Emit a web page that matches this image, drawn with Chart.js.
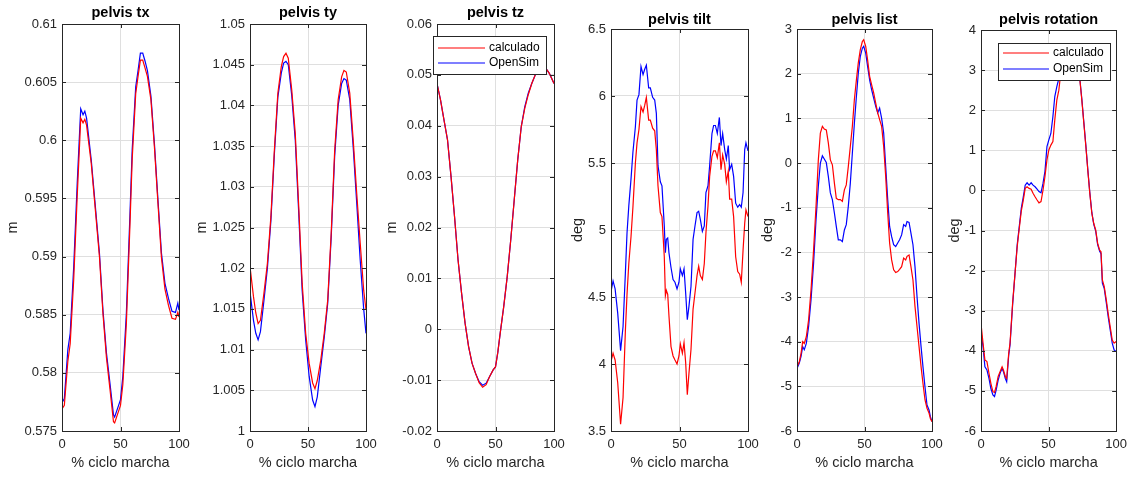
<!DOCTYPE html>
<html>
<head>
<meta charset="utf-8">
<script src="https://cdn.jsdelivr.net/npm/chart.js"></script>
<style>
body { margin: 0; background: #fff; }
#fig { position: relative; width: 1133px; height: 477px; }
#fig canvas { position: absolute; left: 0; top: 0; }
</style>
</head>
<body>
<div id="fig"></div>
<script>
// % ciclo marcha + values (calculado = red, OpenSim = blue)
const pctTx = [0, 2, 5, 7, 10, 13, 15, 16, 18, 19.5, 21, 25, 28, 32, 35, 38, 41, 44, 45, 47, 50, 52, 55, 58, 60, 63, 65, 67, 69, 71, 73, 76, 79, 82, 85, 88, 91, 94, 97, 99, 100]
const txCalc = [0.5769, 0.5772, 0.5810, 0.5825, 0.5880, 0.5952, 0.5996, 0.6019, 0.6015, 0.6018, 0.6013, 0.5980, 0.5946, 0.5900, 0.5851, 0.5813, 0.5786, 0.5758, 0.5757, 0.5763, 0.5772, 0.5790, 0.5842, 0.5925, 0.5984, 0.6040, 0.6055, 0.6069, 0.6069, 0.6062, 0.6055, 0.6035, 0.5994, 0.5946, 0.5899, 0.5872, 0.5858, 0.5847, 0.5846, 0.5852, 0.5848]
const txOpenSim = [0.5774, 0.5778, 0.5820, 0.5834, 0.5891, 0.5963, 0.6006, 0.6027, 0.6022, 0.6025, 0.6019, 0.5983, 0.5949, 0.5903, 0.5854, 0.5817, 0.5791, 0.5764, 0.5762, 0.5768, 0.5777, 0.5797, 0.5851, 0.5934, 0.5992, 0.6046, 0.6060, 0.6075, 0.6075, 0.6068, 0.6060, 0.6038, 0.5997, 0.5949, 0.5903, 0.5877, 0.5864, 0.5853, 0.5852, 0.5860, 0.5854]

const pctTy = [0, 3, 5, 7, 9, 12, 15, 18, 21, 24, 27, 29, 31, 33, 36, 39, 42, 45, 48, 51, 54, 56, 58, 61, 64, 67, 70, 73, 76, 79, 81, 83, 86, 89, 92, 95, 98, 100]
const tyCalc = [1.0202, 1.0165, 1.0145, 1.0132, 1.0136, 1.0169, 1.0206, 1.0263, 1.0345, 1.0415, 1.0448, 1.0460, 1.0464, 1.0458, 1.0419, 1.0366, 1.0276, 1.0181, 1.0120, 1.0083, 1.0059, 1.0052, 1.0062, 1.0087, 1.0120, 1.0161, 1.0243, 1.0345, 1.0407, 1.0435, 1.0443, 1.0441, 1.0415, 1.0357, 1.0292, 1.0231, 1.0173, 1.0149]
const tyOpenSim = [1.0171, 1.0136, 1.0120, 1.0112, 1.0122, 1.0160, 1.0200, 1.0258, 1.0340, 1.0410, 1.0440, 1.0452, 1.0454, 1.0450, 1.0412, 1.0358, 1.0268, 1.0172, 1.0112, 1.0067, 1.0038, 1.0030, 1.0042, 1.0079, 1.0115, 1.0157, 1.0238, 1.0338, 1.0400, 1.0427, 1.0433, 1.0431, 1.0407, 1.0348, 1.0280, 1.0210, 1.0150, 1.0120]

const pctTz = [0, 3, 6, 9, 12, 15, 18, 21, 24, 27, 30, 33, 36, 39, 42, 45, 48, 50, 52, 54, 57, 60, 63, 66, 69, 72, 75, 78, 81, 84, 87, 90, 93, 96, 100]
const tzCalc = [0.0483, 0.0451, 0.0411, 0.0372, 0.0300, 0.0221, 0.0136, 0.0071, 0.0012, -0.0034, -0.0067, -0.0087, -0.0105, -0.0114, -0.0109, -0.0093, -0.0080, -0.0074, -0.0045, -0.0008, 0.0044, 0.0103, 0.0175, 0.0254, 0.0333, 0.0398, 0.0434, 0.0461, 0.0483, 0.0500, 0.0506, 0.0516, 0.0513, 0.0503, 0.0483]
const tzOpenSim = [0.0483, 0.0451, 0.0411, 0.0372, 0.0300, 0.0221, 0.0136, 0.0071, 0.0012, -0.0034, -0.0067, -0.0087, -0.0103, -0.0110, -0.0106, -0.0093, -0.0080, -0.0074, -0.0045, -0.0008, 0.0044, 0.0103, 0.0175, 0.0254, 0.0333, 0.0398, 0.0437, 0.0464, 0.0483, 0.0500, 0.0506, 0.0516, 0.0513, 0.0503, 0.0483]

const pctTilt = [0, 1.5, 3, 4.9, 7, 8.8, 10.5, 11.7, 13, 14.6, 16, 17.8, 19, 20.4, 21.9, 23.4, 24.6, 25.8, 27.5, 28.7, 30.4, 31.9, 33.1, 34.3, 36, 37.2, 38.9, 39.7, 40.4, 41.4, 42.3, 43.8, 45.3, 46.7, 48.2, 49.6, 50.6, 52.1, 53.3, 54.5, 55.7, 56.9, 58.4, 59.9, 61.3, 62.8, 64, 65.2, 66.7, 68.1, 69.3, 70.8, 72, 73.7, 74.9, 76.2, 77.6, 79.1, 80.3, 81.5, 83, 84.2, 85.6, 86.6, 88.1, 89.5, 91, 92.5, 93.9, 95.1, 96.4, 97.6, 98.5, 100]
const tiltCalc = [4.02, 4.08, 4.03, 3.86, 3.55, 3.75, 4.25, 4.52, 4.75, 4.95, 5.17, 5.50, 5.65, 5.75, 5.92, 5.88, 5.93, 5.99, 5.82, 5.82, 5.76, 5.74, 5.60, 5.33, 5.13, 5.10, 4.80, 4.51, 4.55, 4.52, 4.36, 4.13, 4.06, 4.03, 4.00, 4.06, 4.15, 4.08, 4.16, 4.01, 3.77, 3.93, 4.11, 4.41, 4.53, 4.66, 4.73, 4.66, 4.63, 4.75, 4.98, 5.18, 5.40, 5.55, 5.59, 5.59, 5.54, 5.65, 5.45, 5.56, 5.49, 5.36, 5.44, 5.23, 5.23, 5.10, 4.80, 4.69, 4.67, 4.61, 4.85, 5.05, 5.15, 5.10]
const tiltOpenSim = [4.54, 4.62, 4.56, 4.38, 4.10, 4.28, 4.68, 4.98, 5.18, 5.38, 5.58, 5.77, 5.97, 6.01, 6.22, 6.16, 6.20, 6.23, 6.06, 6.06, 5.99, 5.97, 5.87, 5.48, 5.36, 5.33, 5.03, 4.83, 4.93, 4.94, 4.83, 4.72, 4.63, 4.61, 4.56, 4.61, 4.71, 4.66, 4.71, 4.53, 4.33, 4.43, 4.58, 4.93, 5.03, 5.13, 5.14, 5.08, 4.99, 5.03, 5.28, 5.33, 5.48, 5.72, 5.78, 5.78, 5.72, 5.84, 5.63, 5.72, 5.60, 5.53, 5.63, 5.45, 5.49, 5.40, 5.20, 5.17, 5.19, 5.17, 5.28, 5.60, 5.65, 5.59]

const pctList = [0, 1.7, 3, 4.2, 5.4, 6.9, 8.6, 10.4, 12.3, 14.1, 15.8, 17.3, 18.8, 20.2, 21.7, 23.2, 24.7, 26.2, 27.7, 29.1, 30.6, 32.1, 33.6, 35.1, 36.5, 38, 39.5, 41, 42.5, 44, 45.4, 46.9, 48.4, 49.4, 50.9, 52.3, 53.8, 55.3, 56.8, 58.3, 59.8, 61.2, 62.7, 64.2, 65.7, 67.2, 68.6, 70.1, 71.6, 73.1, 74.6, 76, 77.5, 79, 80.5, 81.5, 83, 84.4, 85.9, 87.4, 88.9, 90.4, 91.9, 93.3, 94.8, 96.3, 97.8, 98.8, 100]
const listCalc = [-4.56, -4.45, -4.26, -4.0, -4.04, -3.89, -3.51, -2.84, -1.94, -0.97, 0.07, 0.67, 0.82, 0.76, 0.74, 0.45, 0.07, -0.04, -0.45, -0.79, -0.82, -0.82, -0.86, -0.60, -0.49, -0.08, 0.37, 0.82, 1.42, 1.86, 2.24, 2.54, 2.72, 2.76, 2.61, 2.31, 1.94, 1.75, 1.57, 1.34, 1.12, 0.97, 0.82, 0.37, -0.30, -1.12, -1.79, -2.17, -2.39, -2.45, -2.43, -2.38, -2.32, -2.13, -2.17, -2.09, -2.06, -2.32, -2.62, -3.21, -3.66, -4.11, -4.56, -4.93, -5.30, -5.49, -5.60, -5.72, -5.79]
const listOpenSim = [-4.60, -4.48, -4.33, -4.11, -4.18, -4.04, -3.66, -3.06, -2.24, -1.27, -0.52, 0.0, 0.16, 0.09, 0.01, -0.30, -0.67, -0.82, -1.12, -1.42, -1.72, -1.72, -1.76, -1.50, -1.38, -0.97, -0.45, 0.22, 0.89, 1.49, 2.01, 2.39, 2.57, 2.61, 2.46, 2.16, 1.86, 1.64, 1.45, 1.27, 1.12, 1.23, 1.0, 0.67, -0.08, -0.82, -1.42, -1.65, -1.83, -1.87, -1.79, -1.72, -1.61, -1.38, -1.42, -1.31, -1.33, -1.57, -1.83, -2.32, -2.99, -3.59, -4.11, -4.56, -5.01, -5.42, -5.53, -5.68, -5.79]

const pctRot = [0, 1.5, 2.9, 4.4, 5.9, 7.3, 8.8, 10, 11.2, 12.7, 14.1, 15.6, 16.6, 18, 19, 20.5, 21.5, 23.4, 25.1, 26.8, 28.3, 29.8, 31.2, 32.7, 34.1, 35.6, 37.1, 38.5, 40, 41.5, 42.9, 44.4, 45.9, 47.3, 48.8, 50.2, 51.7, 53.2, 54.6, 56.1, 57.6, 59, 60.5, 63, 66, 69, 72, 73.2, 74.6, 76.1, 77.6, 79, 80.5, 82, 83.4, 84.9, 86.3, 87.8, 88.8, 89.8, 91.2, 92.7, 94.1, 95.6, 97.1, 98.5, 100]
const rotCalc = [-3.32, -3.81, -4.23, -4.27, -4.56, -4.81, -5.02, -5.04, -4.89, -4.64, -4.52, -4.40, -4.48, -4.64, -4.69, -4.06, -3.80, -2.80, -2.10, -1.40, -0.95, -0.52, -0.26, 0.05, 0.09, 0.05, 0.03, -0.07, -0.16, -0.24, -0.31, -0.28, 0.01, 0.34, 0.76, 1.01, 1.13, 1.22, 1.76, 2.25, 2.50, 2.92, 3.17, 3.40, 3.50, 3.40, 2.95, 2.74, 2.25, 1.67, 1.09, 0.51, -0.07, -0.57, -0.82, -0.99, -1.32, -1.49, -1.53, -2.23, -2.40, -2.73, -3.07, -3.40, -3.73, -3.81, -3.77]
const rotOpenSim = [-3.52, -3.90, -4.40, -4.48, -4.69, -4.94, -5.10, -5.14, -4.98, -4.73, -4.56, -4.44, -4.52, -4.69, -4.77, -4.11, -3.85, -2.85, -2.10, -1.35, -0.90, -0.45, -0.18, 0.13, 0.19, 0.13, 0.19, 0.13, 0.09, 0.03, -0.03, -0.06, 0.18, 0.47, 1.09, 1.26, 1.42, 1.84, 2.34, 2.59, 2.79, 3.00, 3.20, 3.45, 3.52, 3.42, 2.98, 2.76, 2.28, 1.70, 1.12, 0.53, -0.05, -0.55, -0.84, -1.02, -1.35, -1.52, -1.58, -2.31, -2.45, -2.80, -3.15, -3.48, -3.81, -3.98, -4.02]

const titles = ["pelvis tx", "pelvis ty", "pelvis tz", "pelvis tilt", "pelvis list", "pelvis rotation"]
const yLabels = ["m", "m", "m", "deg", "deg", "deg"]
const xLabel = "% ciclo marcha"
const seriesNames = ["calculado", "OpenSim"]
const yMins = [0.575, 1, -0.02, 3.5, -6, -6]
const yMaxs = [0.61, 1.05, 0.06, 6.5, 3, 4]
const ySteps = [0.005, 0.005, 0.01, 0.5, 1, 1]

const panelData = [
    [pctTx, txCalc, txOpenSim],
    [pctTy, tyCalc, tyOpenSim],
    [pctTz, tzCalc, tzOpenSim],
    [pctTilt, tiltCalc, tiltOpenSim],
    [pctList, listCalc, listOpenSim],
    [pctRot, rotCalc, rotOpenSim]
]

// layout: axes box [left, top, right, bottom], y label centre x, title centre y
const areas = [[62, 24, 179, 431], [250, 24, 366, 431], [437, 24, 554, 431], [611, 29, 748, 431], [797, 29, 932, 431], [981, 30, 1117, 431]]
const yLabelX = [13.3, 201.7, 391.7, 578.3, 768.3, 955]
const titleY = [12.7, 12.7, 12.7, 20, 20, 20]
const legends = {
    2: { left: 433, top: 36, width: 113, height: 38, rows: [11.5, 26.5], line: [5, 52], text: 56 },
    5: { left: 998, top: 43, width: 112, height: 37, rows: [10, 25.5], line: [5, 51], text: 55 }
}

const W = 1133, H = 477
const FONT = '"Liberation Sans", Arial, Helvetica, sans-serif'
const TICK_SIZE = 13, LABEL_SIZE = 14.5
const LABEL_LH = LABEL_SIZE * 1.2
const X_AXIS_H = 41
const ink = "#262626"
const colors = ["rgb(255, 0, 0)", "rgb(0, 0, 255)"]

Chart.defaults.font.family = FONT
Chart.defaults.color = ink

// MATLAB style box with inward ticks on all four sides
const matlabBox = {
    id: "matlabBox",
    afterDatasetsDraw(chart) {
        const { ctx, chartArea: a, scales: { x, y } } = chart
        const tl = 4
        ctx.save()
        ctx.strokeStyle = ink
        ctx.lineWidth = 1
        ctx.beginPath()
        y.ticks.forEach(t => {
            const p = Math.round(y.getPixelForValue(t.value)) + 0.5
            ctx.moveTo(a.left, p); ctx.lineTo(a.left + tl, p)
            ctx.moveTo(a.right, p); ctx.lineTo(a.right - tl, p)
        })
        x.ticks.forEach(t => {
            const p = Math.round(x.getPixelForValue(t.value)) + 0.5
            ctx.moveTo(p, a.bottom); ctx.lineTo(p, a.bottom - tl)
            ctx.moveTo(p, a.top); ctx.lineTo(p, a.top + tl)
        })
        ctx.stroke()
        ctx.strokeRect(Math.round(a.left) + 0.5, Math.round(a.top) + 0.5, Math.round(a.right - a.left), Math.round(a.bottom - a.top))
        ctx.restore()
    }
}

const boxLegend = {
    id: "boxLegend",
    afterDraw(chart, args, opts) {
        if (!opts || opts.left === undefined) return
        const { ctx } = chart
        ctx.save()
        ctx.fillStyle = "#fff"
        ctx.fillRect(opts.left, opts.top, opts.width, opts.height)
        ctx.strokeStyle = ink
        ctx.lineWidth = 1
        ctx.strokeRect(opts.left + 0.5, opts.top + 0.5, opts.width, opts.height)
        ctx.font = "12px " + FONT
        ctx.textBaseline = "middle"
        chart.data.datasets.forEach((ds, i) => {
            const yy = Math.round(opts.top + opts.rows[i])
            ctx.strokeStyle = colors[i]
            ctx.lineWidth = 1.2
            ctx.beginPath()
            ctx.moveTo(opts.left + opts.line[0], yy)
            ctx.lineTo(opts.left + opts.line[1], yy)
            ctx.stroke()
            ctx.fillStyle = "#000"
            ctx.fillText(ds.label, opts.left + opts.text, yy)
        })
        ctx.restore()
    }
}

const fig = document.getElementById("fig")

function makePanel(i) {
    const [L, T, R, B] = areas[i]
    const [xs, calc, open] = panelData[i]
    const yAxisW = L - yLabelX[i] + LABEL_LH / 2
    const padTop = titleY[i] - LABEL_LH / 2
    const titleGap = T - padTop - LABEL_LH
    const canvas = document.createElement("canvas")
    canvas.width = W
    canvas.height = H
    fig.appendChild(canvas)

    const datasets = [calc, open].map((ys, k) => ({
        label: seriesNames[k],
        data: xs.map((x, j) => ({ x: x, y: ys[j] })),
        borderColor: colors[k],
        backgroundColor: colors[k],
        borderWidth: 1.2,
        pointRadius: 0,
        tension: 0,
        fill: false
    }))

    const plugins = [matlabBox]
    if (legends[i]) plugins.push(boxLegend)

    new Chart(canvas, {
        type: "line",
        data: { datasets: datasets },
        plugins: plugins,
        options: {
            responsive: false,
            animation: false,
            events: [],
            layout: { padding: { left: L - yAxisW, right: W - R, top: padTop, bottom: H - B - X_AXIS_H } },
            scales: {
                x: {
                    type: "linear",
                    min: 0,
                    max: 100,
                    afterFit: s => { s.height = X_AXIS_H },
                    ticks: { stepSize: 50, maxRotation: 0, padding: 6, color: ink, font: { size: TICK_SIZE } },
                    grid: { color: "rgb(223, 223, 223)", drawTicks: false },
                    border: { display: false },
                    title: { display: true, text: xLabel, color: ink, padding: 0, font: { size: LABEL_SIZE } }
                },
                y: {
                    type: "linear",
                    min: yMins[i],
                    max: yMaxs[i],
                    afterFit: s => { s.width = yAxisW },
                    ticks: {
                        stepSize: ySteps[i],
                        autoSkip: false,
                        padding: 5,
                        color: ink,
                        font: { size: TICK_SIZE },
                        callback: v => String(Number(v.toFixed(4)))
                    },
                    grid: { color: "rgb(223, 223, 223)", drawTicks: false },
                    border: { display: false },
                    title: { display: true, text: yLabels[i], color: ink, padding: 0, font: { size: LABEL_SIZE } }
                }
            },
            plugins: {
                legend: { display: false },
                tooltip: { enabled: false },
                title: {
                    display: true,
                    text: titles[i],
                    fullSize: false,
                    color: "#000",
                    padding: { top: 0, bottom: titleGap },
                    font: { size: LABEL_SIZE, weight: "bold" }
                },
                boxLegend: legends[i] || {}
            }
        }
    })
}

titles.forEach((t, i) => makePanel(i))
</script>
</body>
</html>
